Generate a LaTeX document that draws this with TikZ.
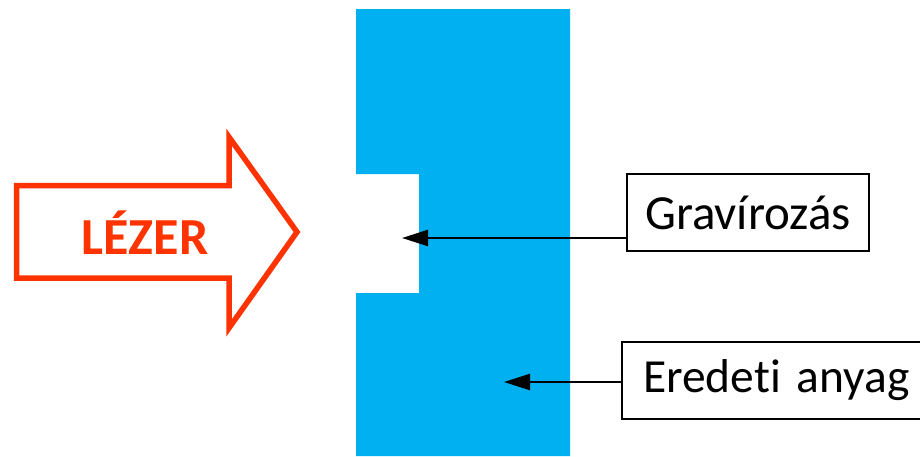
\documentclass[tikz,border=0pt]{standalone}
\usepackage{fontspec}
\setmainfont{Carlito}[Ligatures=NoCommon]
\usetikzlibrary{arrows.meta}
\definecolor{matblue}{HTML}{00B0F0}
\definecolor{laser}{HTML}{FF3300}
\tikzset{
  labelbox/.style={draw=black, line width=2pt, fill=white, minimum height=77pt, inner sep=0pt, font=\fontsize{49}{53}\selectfont},
  conn/.style={draw=black, line width=2.4pt, -{Triangle[length=26pt,width=16pt]}},
  laserarrow/.style={draw=laser, line width=5.5pt, line join=miter, fill=white},
}
\begin{document}
\begin{tikzpicture}[x=1pt,y=-1pt]
\useasboundingbox (0,0) rectangle (920,456);
\clip (0,0) rectangle (920,456);
% material block with engraved notch
\fill[matblue] (356,9) -- (570,9) -- (570,456) -- (356,456) -- (356,293) -- (419,293) -- (419,174) -- (356,174) -- cycle;
% laser arrow
\draw[laserarrow] (16.5,185.5) -- (229,185.5) -- (229,137) -- (297,232) -- (229,328) -- (229,278) -- (16.5,278) -- cycle;
\node[text=laser, font=\fontsize{52}{56}\selectfont\bfseries] (lezer) at (145,233) {LÉZER};
% labels
\node[labelbox, minimum width=242pt] (grav) at (748,212.5) {Gravírozás};
\node[labelbox, anchor=west, text width=400pt, inner xsep=21pt, align=left, font=\fontsize{47.5}{52}\selectfont] (ered) at (621,380.5) {Eredeti anyag};
\coordinate (gtip) at (402,238);
\coordinate (etip) at (504,382);
\draw[conn] (grav.west |- gtip) -- (gtip);
\draw[conn] (ered.west |- etip) -- (etip);
\end{tikzpicture}
\end{document}
